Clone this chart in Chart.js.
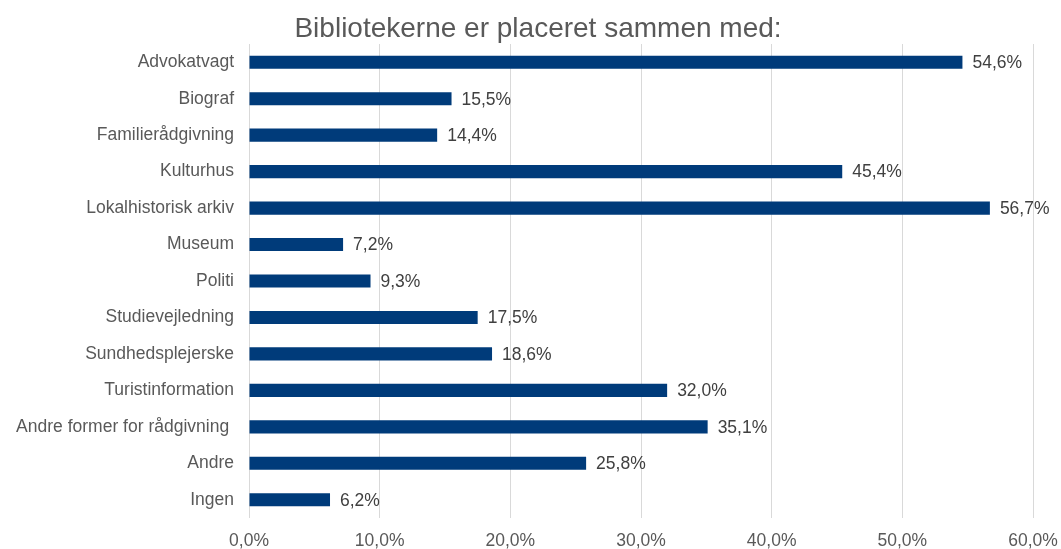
<!DOCTYPE html>
<html><head><meta charset="utf-8">
<script src="https://cdn.jsdelivr.net/npm/chart.js@4/dist/chart.umd.min.js"></script>
<style>html,body{margin:0;padding:0;background:#fff}#wrap{width:1061px;height:549px}</style>
</head><body><div id="wrap"><canvas id="c"></canvas></div>
<script>
const categories = ["Advokatvagt","Biograf","Familierådgivning","Kulturhus","Lokalhistorisk arkiv","Museum","Politi","Studievejledning","Sundhedsplejerske","Turistinformation","Andre former for rådgivning ","Andre","Ingen"];
const values = [54.6,15.5,14.4,45.4,56.7,7.2,9.3,17.5,18.6,32.0,35.1,25.8,6.2];
const titleText = "Bibliotekerne er placeret sammen med:";
const fmt = v => v.toFixed(1).replace('.', ',') + '%';
const FONT = '"Liberation Sans", Arial, sans-serif';

const labelPlugin = {
  id: 'barLabels',
  afterDatasetsDraw(chart) {
    const ctx = chart.ctx;
    const meta = chart.getDatasetMeta(0);
    ctx.save();
    ctx.font = '17.5px ' + FONT;
    ctx.fillStyle = '#404040';
    ctx.textAlign = 'left';
    ctx.textBaseline = 'middle';
    meta.data.forEach((bar, i) => {
      ctx.fillText(fmt(values[i]), bar.x + 10, bar.y + 1);
    });
    ctx.restore();
  }
};

const titlePlugin = {
  id: 'customTitle',
  afterDraw(chart) {
    const ctx = chart.ctx;
    ctx.save();
    ctx.font = '28px ' + FONT;
    ctx.fillStyle = '#595959';
    ctx.textAlign = 'center';
    ctx.textBaseline = 'alphabetic';
    ctx.fillText(titleText, 538, 37);
    ctx.restore();
  }
};

new Chart(document.getElementById('c'), {
  type: 'bar',
  data: {
    labels: categories,
    datasets: [{
      data: values,
      backgroundColor: '#003B7A',
      borderWidth: 0,
      categoryPercentage: 1,
      barPercentage: 0.36
    }]
  },
  options: {
    indexAxis: 'y',
    responsive: true,
    maintainAspectRatio: false,
    animation: false,
    layout: { padding: { top: 44, right: 28, bottom: 0, left: 0 } },
    plugins: {
      legend: { display: false },
      tooltip: { enabled: false },
      title: { display: false }
    },
    scales: {
      x: {
        min: 0, max: 60,
        ticks: {
          stepSize: 10,
          callback: v => fmt(v),
          color: '#595959',
          font: { family: FONT, size: 17.5 },
          padding: 13
        },
        grid: { color: '#d9d9d9', drawTicks: false },
        border: { display: false },
        afterFit(scale) { scale.height = 31; scale.paddingRight = 0; scale.paddingLeft = 0; }
      },
      y: {
        ticks: {
          color: '#595959',
          font: { family: FONT, size: 17.5 },
          padding: 15
        },
        grid: { display: false, drawTicks: false },
        border: { display: false },
        afterFit(scale) { scale.width = 249; }
      }
    }
  },
  plugins: [labelPlugin, titlePlugin]
});
</script></body></html>
